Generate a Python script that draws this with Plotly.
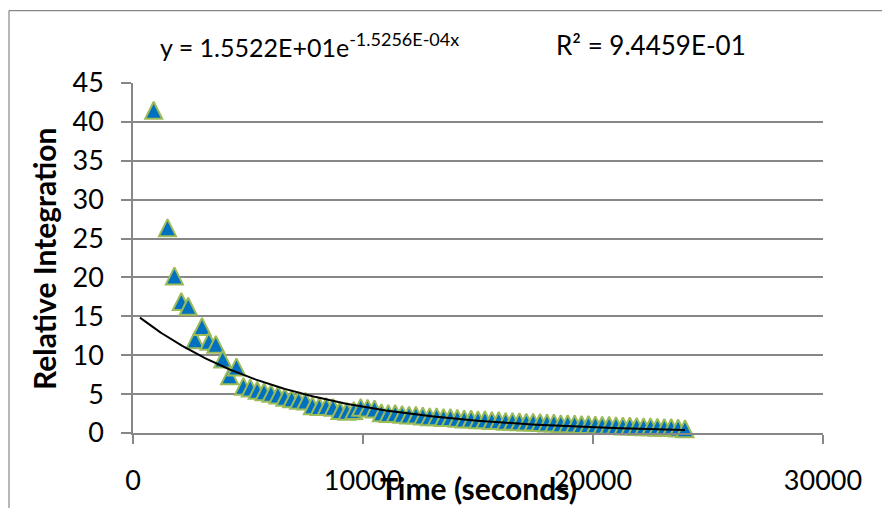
import plotly.graph_objects as go
import numpy as np

# Sampling times (s) and relative integration values
time_s = [900, 1500, 1800, 2100, 2400, 2700, 3000, 3300, 3600, 3900, 4200, 4500,
          4800, 5100, 5400, 5700, 6000, 6300, 6600, 6900, 7200, 7500, 7800, 8100,
          8400, 8700, 9000, 9300, 9600, 9900, 10200, 10500, 10800, 11100, 11400, 11700,
          12000, 12300, 12600, 12900, 13200, 13500, 13800, 14100, 14400, 14700, 15000, 15300,
          15600, 15900, 16200, 16500, 16800, 17100, 17400, 17700, 18000, 18300, 18600, 18900,
          19200, 19500, 19800, 20100, 20400, 20700, 21000, 21300, 21600, 21900, 22200, 22500,
          22800, 23100, 23400, 23700, 24000]
rel_int = [41.5, 26.4, 20.2, 16.9, 16.3, 12.0, 13.7, 11.8, 11.4, 9.5, 7.35, 8.5,
           6.0, 5.8, 5.5, 5.3, 5.1, 4.9, 4.6, 4.4, 4.2, 4.1, 3.5, 3.4,
           3.4, 3.3, 2.9, 2.8, 2.9, 3.3, 3.2, 3.1, 2.6, 2.5, 2.5, 2.4,
           2.3, 2.3, 2.2, 2.1, 2.1, 2.0, 2.0, 1.9, 1.8, 1.8, 1.7, 1.7,
           1.6, 1.6, 1.5, 1.5, 1.45, 1.4, 1.4, 1.35, 1.3, 1.3, 1.2, 1.2,
           1.15, 1.1, 1.1, 1.05, 1.0, 1.0, 0.95, 0.9, 0.9, 0.85, 0.8, 0.8,
           0.75, 0.7, 0.7, 0.65, 0.55]

# Exponential trendline y = a * exp(b * x)
fit_a = 1.5522E+01
fit_b = -1.5256E-04
fit_r2 = 9.4459E-01
fit_range = [300, 24000]

x_ticks = [0, 10000, 20000, 30000]
y_ticks = [0, 5, 10, 15, 20, 25, 30, 35, 40, 45]

FONT = "Lato"
GRID = "#878787"

fit_x = np.linspace(fit_range[0], fit_range[1], 400)
fit_y = fit_a * np.exp(fit_b * fit_x)

fig = go.Figure()

# Upward triangles: an arrow rotated 180 deg and pushed back by half its size
fig.add_trace(go.Scatter(
    x=time_s, y=rel_int, mode="markers",
    marker=dict(symbol="arrow-down", angle=180, standoff=8.5, size=17,
                color="#0070C0", line=dict(color="#9BBB59", width=2)),
    cliponaxis=False, showlegend=False,
))

fig.add_trace(go.Scatter(
    x=fit_x, y=fit_y, mode="lines",
    line=dict(color="black", width=2),
    cliponaxis=False, showlegend=False,
))

fig.update_layout(
    width=882, height=508,
    margin=dict(l=133, r=59, t=83, b=72, pad=0),
    paper_bgcolor="white", plot_bgcolor="white",
    font=dict(family=FONT, color="black", size=27),
    xaxis=dict(range=[0, 30000], tickvals=x_ticks, ticktext=[str(v) for v in x_ticks],
               showgrid=False, zeroline=False, showline=True, linecolor=GRID, linewidth=1.5,
               ticks="outside", ticklen=9, tickwidth=1.5, tickcolor=GRID,
               tickfont=dict(family=FONT, size=27, color="black"), ticklabelstandoff=14),
    yaxis=dict(range=[0, 45], tickvals=y_ticks, ticktext=[str(v) for v in y_ticks],
               showgrid=True, gridcolor=GRID, gridwidth=1.5, zeroline=False,
               showline=True, linecolor=GRID, linewidth=1.5,
               ticks="outside", ticklen=10, tickwidth=1.5, tickcolor=GRID,
               tickfont=dict(family=FONT, size=27, color="black"), ticklabelstandoff=12),
)

# Chart frame (top and left edges)
frame = dict(color=GRID, width=1.2)
fig.add_shape(type="line", xref="paper", yref="paper", x0=-0.1797, x1=1.3, y0=1.2068, y1=1.2068, line=frame)
fig.add_shape(type="line", xref="paper", yref="paper", x0=-0.1797, x1=-0.1797, y0=1.2068, y1=-0.4, line=frame)

fig.add_annotation(xref="paper", yref="paper", x=0.036, y=1.1076, xanchor="left", yanchor="middle",
                   text=(f"y = {fit_a:.4E}e<sup><span style='font-size:18px'>"
                         f"{fit_b:.4E}x</span></sup>"),
                   showarrow=False, font=dict(family=FONT, size=25, color="black"))
fig.add_annotation(xref="paper", yref="paper", x=0.61, y=1.1076, xanchor="left", yanchor="middle",
                   text=f"R² = {fit_r2:.4E}", showarrow=False,
                   font=dict(family=FONT, size=26, color="black"))

fig.add_annotation(xref="paper", yref="paper", x=-0.129, y=0.5, xanchor="center", yanchor="middle",
                   text="Relative Integration", textangle=-90, showarrow=False,
                   font=dict(family=FONT, size=30, color="black", weight="bold"))
fig.add_annotation(xref="paper", yref="paper", x=0.5, y=-0.156, xanchor="center", yanchor="middle",
                   text="Time (seconds)", showarrow=False,
                   font=dict(family=FONT, size=30, color="black", weight="bold"))

fig.write_html("out.html")
